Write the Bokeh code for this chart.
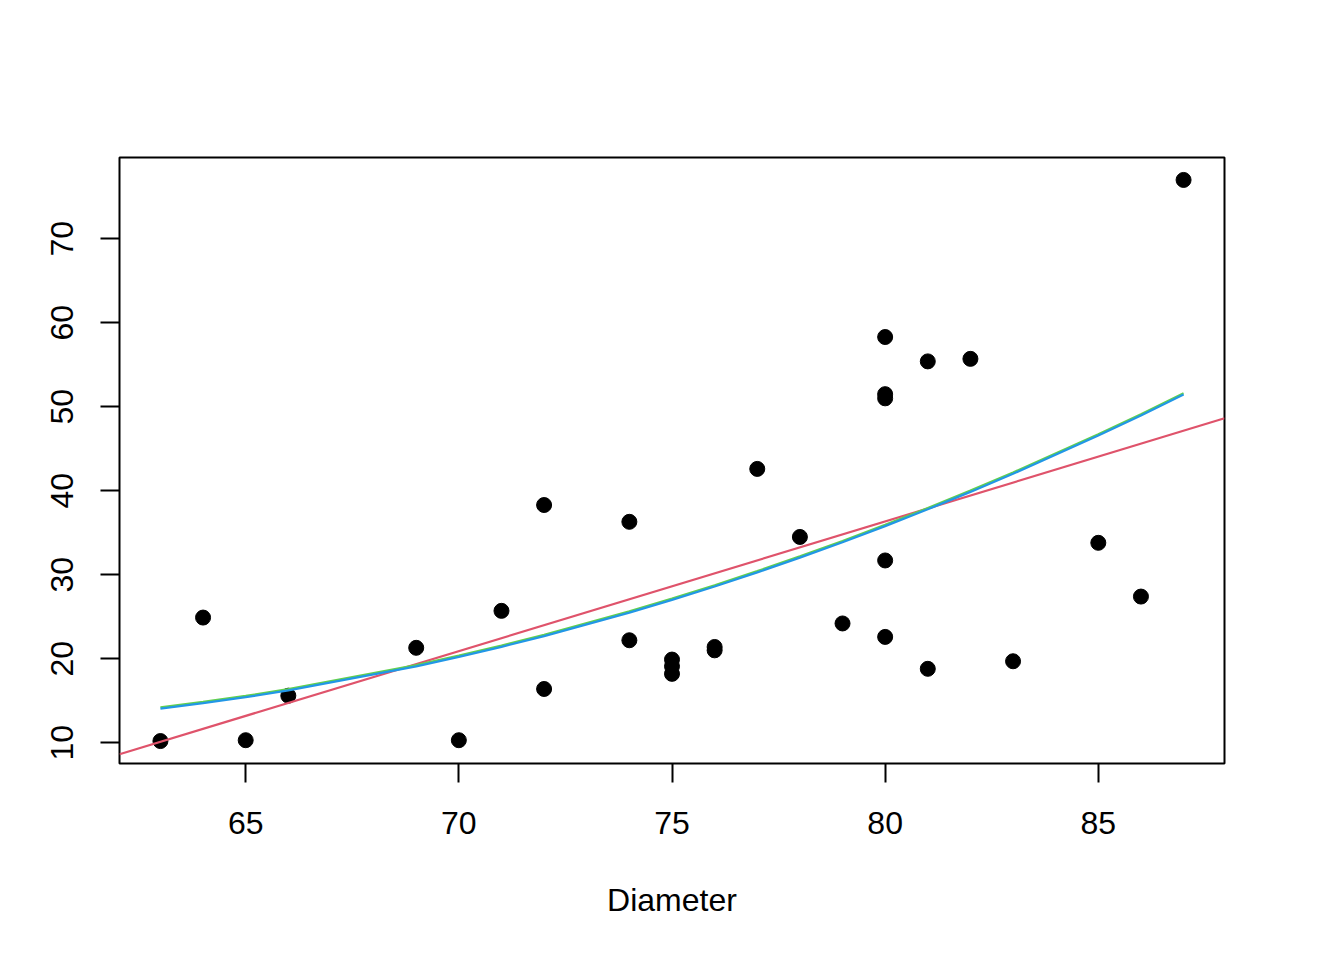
import numpy as np
from bokeh.plotting import figure
from bokeh.models import Range1d, FixedTicker
from bokeh.embed import file_html
from bokeh.resources import INLINE

diameter = [70, 65, 63, 72, 81, 83, 66, 75, 80, 75, 79, 76, 76, 69, 75, 74, 85, 86,
            71, 64, 78, 80, 74, 72, 77, 81, 82, 80, 80, 80, 87]
volume = [10.3, 10.3, 10.2, 16.4, 18.8, 19.7, 15.6, 18.2, 22.6, 19.9, 24.2, 21.0,
          21.4, 21.3, 19.1, 22.2, 33.8, 27.4, 25.7, 24.9, 34.5, 31.7, 36.3, 38.3,
          42.6, 55.4, 55.7, 58.3, 51.5, 51.0, 77.0]
x_ticks = [65, 70, 75, 80, 85]
y_ticks = [10, 20, 30, 40, 50, 60, 70]

x = np.array(diameter, dtype=float)
y = np.array(volume, dtype=float)

# fits derived from the data
lin = np.polyfit(x, y, 1)
quad = np.polyfit(x, y, 2)
xs = np.sort(x)
xr = np.array([62.04, 87.96])

font = "Liberation Sans"
p = figure(width=1336, height=952, output_backend="svg", toolbar_location=None,
           x_range=Range1d(62.04, 87.96), y_range=Range1d(7.528, 79.672),
           min_border_left=119, min_border_right=112, min_border_top=157,
           min_border_bottom=189)
p.xgrid.visible = False
p.ygrid.visible = False
p.outline_line_color = "black"
p.outline_line_width = 2
p.background_fill_color = "white"
p.border_fill_color = "white"

for ax, ticks in ((p.xaxis, x_ticks), (p.yaxis, y_ticks)):
    ax.ticker = FixedTicker(ticks=ticks)
    ax.axis_line_color = None
    ax.major_tick_line_width = 2
    ax.major_tick_line_color = "black"
    ax.major_tick_out = 19
    ax.major_tick_in = 0
    ax.minor_tick_line_color = None
    ax.major_label_text_font = font
    ax.major_label_text_font_size = "32px"
    ax.major_label_text_color = "black"

p.xaxis.major_label_standoff = 29
p.yaxis.major_label_standoff = 27
p.yaxis.major_label_orientation = "vertical"
p.xaxis.axis_label = "Diameter"
p.xaxis.axis_label_text_font = font
p.xaxis.axis_label_text_font_size = "32px"
p.xaxis.axis_label_text_font_style = "normal"
p.xaxis.axis_label_text_color = "black"
p.xaxis.axis_label_standoff = 45

p.scatter(x, y, size=15, color="black")
p.line(xr, np.polyval(lin, xr), line_color="#DF536B", line_width=2.2)
p.line(xs, np.polyval(quad, xs) + 0.15, line_color="#61D04F", line_width=2.2)
p.line(xs, np.polyval(quad, xs), line_color="#2297E6", line_width=2.2)

open("out.html", "w").write(file_html(p, INLINE))
